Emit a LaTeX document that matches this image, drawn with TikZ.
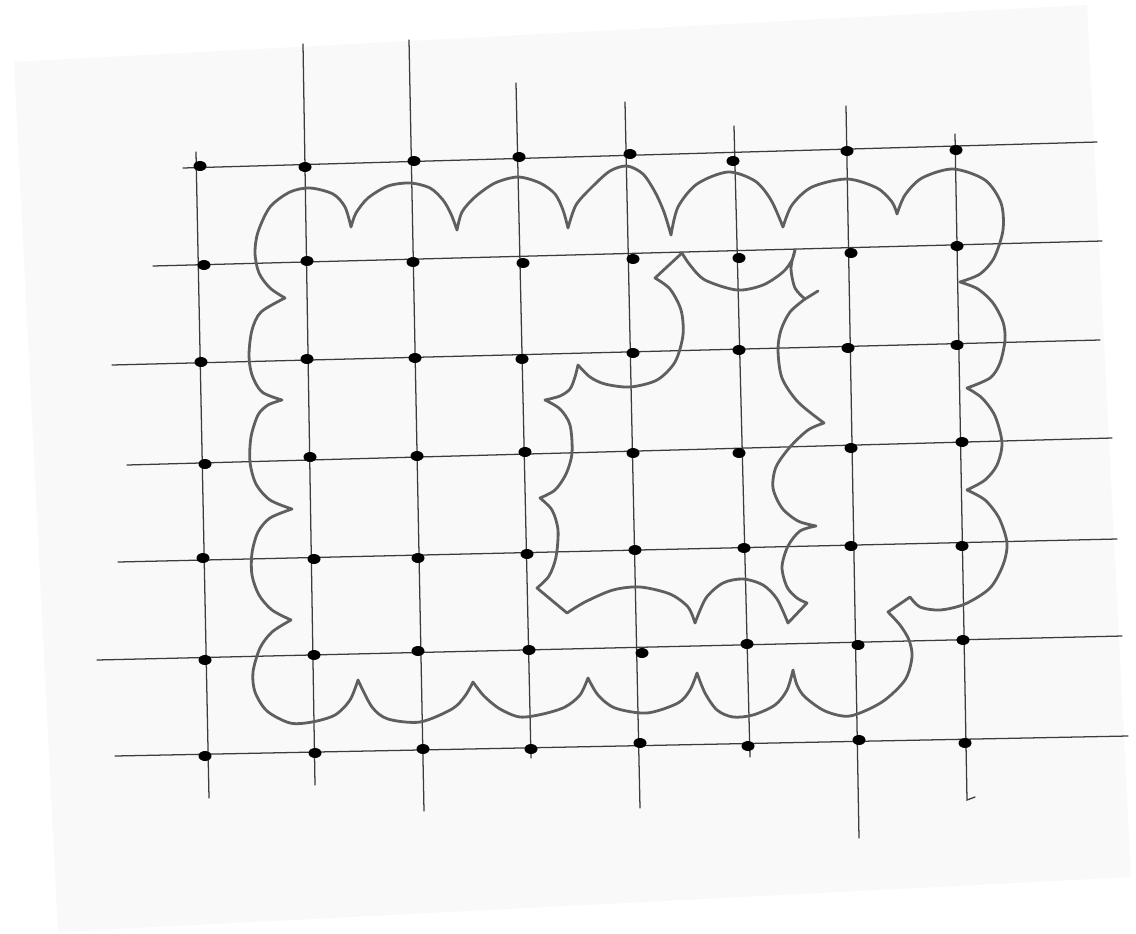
\documentclass[tikz,border=0pt]{standalone}
\definecolor{pagecol}{RGB}{249,249,249}
\definecolor{gridcol}{RGB}{60,60,60}
\definecolor{curvecol}{RGB}{95,95,95}
\begin{document}
\begin{tikzpicture}[x=0.75pt,y=-0.75pt,
  gridline/.style={line width=0.95pt, draw=gridcol, line cap=round},
  kcurve/.style={line width=2.1pt, draw=curvecol, line join=round, line cap=round},
  dotmark/.style={fill=black}]
\useasboundingbox (0,0) rectangle (1136,933);
\fill[white] (0,0) rectangle (1136,933);
\fill[pagecol] (14,62) -- (1087,5) -- (1131,877) -- (58,932) -- cycle;

% horizontal grid lines
\draw[gridline] (183,168) -- (1097,142);
\draw[gridline] (153,266) -- (1102,241);
\draw[gridline] (112,365) -- (1100,340);
\draw[gridline] (127,465) -- (1112,438);
\draw[gridline] (118,562) -- (1117,539);
\draw[gridline] (97,660) -- (1122,636);
\draw[gridline] (115,756) -- (1128,736);
% vertical grid lines
\draw[gridline] (196,152) -- (209,798);
\draw[gridline] (303,44) -- (315,785);
\draw[gridline] (409,40) -- (424,811);
\draw[gridline] (516,83) -- (531,758);
\draw[gridline] (625,102) -- (640,808);
\draw[gridline] (734,126) -- (750,757);
\draw[gridline] (846,106) -- (859,838);
\draw[gridline] (955,134) -- (967,800) -- (975,797);

% dots
\foreach \x/\y [count=\i] in {
 200/166,305/167,414/161,519/157,630/154,733/161,847/151,956/150,
 204/265,307/261,413/262,523/263,633/259,739/258,851/253,957/246,
 201/362,307/359,415/358,522/359,633/353,739/350,848/348,957/345,
 205/464,310/457,417/456,525/452,633/453,739/453,851/448,962/442,
 203/558,314/559,418/558,527/554,635/550,744/548,851/546,962/546,
 205/660,314/655,418/651,529/650,642/653,747/644,858/645,963/640,
 205/756,315/753,423/749,531/749,640/743,748/746,859/740,965/743}
 {\coordinate (d\i) at (\x,\y); \fill[dotmark] (d\i) ellipse (6.5 and 5);}

% cusps of the outer loop
\coordinate (A1) at (351,227);
\coordinate (A2) at (457,230);
\coordinate (A3) at (568,228);
\coordinate (A4) at (671,235);
\coordinate (A5) at (783,227);
\coordinate (A6) at (897,214);
\coordinate (A7) at (960,282);
\coordinate (A8) at (967,388);
\coordinate (A9) at (967,490);
\coordinate (A10) at (910,597);
\coordinate (A11) at (888,612);
\coordinate (A12) at (793,670);
\coordinate (A13) at (697,673);
\coordinate (A14) at (588,678);
\coordinate (A15) at (473,682);
\coordinate (A16) at (358,680);
\coordinate (A17) at (291,620);
\coordinate (A18) at (292,509);
\coordinate (A19) at (282,400);
\coordinate (A20) at (285,298);

\draw[kcurve]
 plot[smooth] coordinates {(A1) (356,213) (368,198) (388,186) (410,183) (430,188) (443,200) (451,214) (A2)}
 -- plot[smooth] coordinates {(A2) (462,212) (475,197) (495,183) (518,177) (540,183) (555,194) (563,210) (A3)}
 -- plot[smooth] coordinates {(A3) (576,205) (592,187) (610,171) (627,166) (643,174) (655,192) (664,212) (A4)}
 -- plot[smooth] coordinates {(A4) (678,207) (697,184) (728,172) (755,181) (771,200) (A5)}
 -- plot[smooth] coordinates {(A5) (792,205) (812,187) (847,179) (877,188) (892,202) (A6)}
 -- plot[smooth] coordinates {(A6) (905,195) (922,178) (953,169) (985,180) (1001,203) (1003,230) (994,258) (980,274) (A7)}
 -- plot[smooth] coordinates {(A7) (978,289) (993,303) (1003,322) (1005,340) (1000,363) (990,378) (A8)}
 -- plot[smooth] coordinates {(A8) (982,398) (995,416) (1002,443) (997,465) (985,480) (A9)}
 -- plot[smooth] coordinates {(A9) (985,500) (999,518) (1007,543) (1003,565) (990,588) (965,604) (940,610) (920,607) (A10)}
 -- (A11)
 -- plot[smooth] coordinates {(A11) (900,625) (909,640) (912,657) (905,680) (882,702) (850,716) (825,711) (805,697) (797,685) (A12)}
 -- plot[smooth] coordinates {(A12) (787,690) (775,705) (753,715) (733,717) (717,710) (705,693) (A13)}
 -- plot[smooth] coordinates {(A13) (690,690) (678,703) (647,713) (615,708) (598,695) (A14)}
 -- plot[smooth] coordinates {(A14) (580,695) (565,707) (543,714) (520,717) (500,709) (484,696) (A15)}
 -- plot[smooth] coordinates {(A15) (465,696) (452,709) (420,722) (388,719) (372,707) (A16)}
 -- plot[smooth] coordinates {(A16) (350,700) (335,715) (312,722) (290,723) (267,711) (255,692) (253,672) (260,648) (272,632) (A17)}
 -- plot[smooth] coordinates {(A17) (272,610) (259,595) (252,575) (252,553) (258,532) (270,518) (A18)}
 -- plot[smooth] coordinates {(A18) (270,500) (256,484) (250,462) (251,437) (258,415) (268,405) (A19)}
 -- plot[smooth] coordinates {(A19) (262,392) (252,375) (249,355) (252,330) (261,312) (A20)}
 -- plot[smooth] coordinates {(A20) (270,288) (259,273) (255,253) (258,232) (270,207) (290,192) (310,188) (333,194) (345,207) (A1)};

% cusps of the inner loop
\coordinate (B1) at (682,253);
\coordinate (B2) at (795,250);
\coordinate (B3) at (805,299);
\coordinate (B3t) at (818,291);
\coordinate (B4) at (824,423);
\coordinate (B5) at (816,526);
\coordinate (B6) at (807,603);
\coordinate (B7) at (788,623);
\coordinate (B8) at (695,623);
\coordinate (B9) at (567,613);
\coordinate (B10) at (537,588);
\coordinate (B11) at (540,498);
\coordinate (B12) at (545,400);
\coordinate (B13) at (578,365);
\coordinate (B14) at (655,278);

\draw[kcurve]
 plot[smooth] coordinates {(B1) (690,265) (705,280) (737,290) (763,285) (783,272) (792,260) (B2)}
 -- plot[smooth] coordinates {(B2) (791,268) (795,288) (B3)}
 -- plot[smooth] coordinates {(B3) (790,312) (781,330) (778,350) (782,378) (798,402) (B4)}
 -- plot[smooth] coordinates {(B4) (808,430) (790,447) (776,467) (773,488) (782,508) (798,521) (B5)}
 -- plot[smooth] coordinates {(B5) (800,531) (788,546) (782,567) (787,587) (797,598) (B6)}
 -- (B7)
 -- plot[smooth] coordinates {(B7) (777,599) (763,585) (743,579) (723,583) (706,598) (B8)}
 -- plot[smooth] coordinates {(B8) (688,607) (670,594) (640,587) (613,590) (585,602) (B9)}
 -- (B10)
 -- plot[smooth] coordinates {(B10) (549,576) (556,557) (558,530) (552,510) (B11)}
 -- plot[smooth] coordinates {(B11) (555,490) (566,474) (572,453) (570,425) (560,409) (B12)}
 -- plot[smooth] coordinates {(B12) (560,396) (570,389) (575,377) (B13)}
 -- plot[smooth] coordinates {(B13) (590,377) (605,384) (630,387) (657,380) (675,362) (683,335) (681,310) (670,289) (B14)}
 -- (B1);
\draw[kcurve] (B3) -- (B3t);
\end{tikzpicture}
\end{document}
